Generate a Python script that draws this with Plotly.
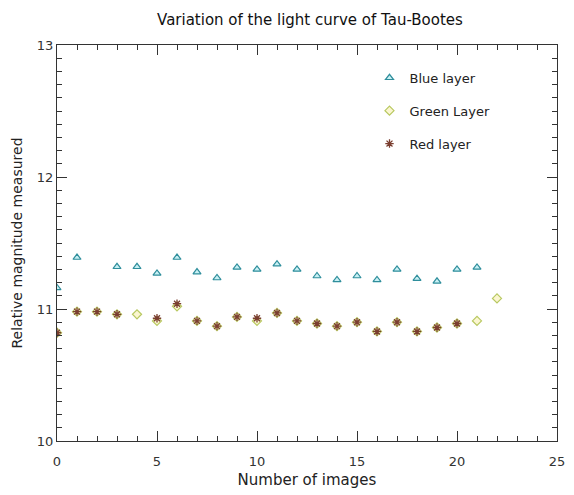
import plotly.graph_objects as go

blue_x = [0, 1, 3, 4, 5, 6, 7, 8, 9, 10, 11, 12, 13, 14, 15, 16, 17, 18, 19, 20, 21]
blue_y = [11.16, 11.39, 11.32, 11.32, 11.27, 11.39, 11.28, 11.235, 11.315, 11.30, 11.34,
          11.30, 11.25, 11.22, 11.25, 11.22, 11.30, 11.23, 11.21, 11.30, 11.315]

green_x = [0, 1, 2, 3, 4, 5, 6, 7, 8, 9, 10, 11, 12, 13, 14, 15, 16, 17, 18, 19, 20, 21, 22]
green_y = [10.82, 10.98, 10.98, 10.96, 10.96, 10.91, 11.02, 10.91, 10.87, 10.94, 10.91, 10.97,
           10.91, 10.89, 10.87, 10.90, 10.83, 10.90, 10.83, 10.86, 10.89, 10.91, 11.08]

red_x = [0, 1, 2, 3, 5, 6, 7, 8, 9, 10, 11, 12, 13, 14, 15, 16, 17, 18, 19, 20]
red_y = [10.82, 10.98, 10.98, 10.96, 10.93, 11.04, 10.91, 10.87, 10.94, 10.93, 10.97,
         10.91, 10.89, 10.87, 10.90, 10.83, 10.90, 10.83, 10.86, 10.89]

FONT = "DejaVu Sans"

fig = go.Figure()
fig.add_trace(go.Scatter(x=blue_x, y=blue_y, mode="markers", name="Blue layer", legendgroup="b",
                         marker=dict(symbol="triangle-up", size=7, color="#c8f0f4",
                                     line=dict(color="#2f8e9c", width=1.2))))
fig.add_trace(go.Scatter(x=green_x, y=green_y, mode="markers", name="Green Layer", legendgroup="g",
                         marker=dict(symbol="diamond", size=7, color="#fbf6d0",
                                     line=dict(color="#b8c860", width=1.2))))
fig.add_trace(go.Scatter(x=red_x, y=red_y, mode="markers", name="Red layer", legendgroup="r",
                         marker=dict(symbol="asterisk-open", size=7, color="#7a3e30",
                                     line=dict(color="#7a3e30", width=1.3))))

axis_common = dict(showline=True, linecolor="#333", linewidth=1, mirror="ticks",
                   ticks="inside", tickcolor="#333", showgrid=False, zeroline=False,
                   tickfont=dict(family=FONT, size=13, color="#333"))

fig.update_xaxes(range=[0, 25], dtick=5, ticklen=10, ticklabelstandoff=8,
                 minor=dict(dtick=1, ticklen=5, ticks="inside", tickcolor="#333"),
                 title=dict(text="Number of images", font=dict(family=FONT, size=15, color="#222"),
                            standoff=6),
                 **axis_common)
fig.update_yaxes(range=[10, 13], dtick=1, ticklen=10,
                 minor=dict(dtick=0.1, ticklen=5, ticks="inside", tickcolor="#333"),
                 title=dict(text="Relative magnitude measured", font=dict(family=FONT, size=14, color="#222"),
                            standoff=10),
                 **axis_common)

fig.update_layout(
    width=574, height=495,
    margin=dict(l=57, r=9, t=45, b=54),
    paper_bgcolor="white", plot_bgcolor="white",
    title=dict(text="Variation of the light curve of Tau-Bootes", x=0.54, xanchor="center",
               y=0.96, yanchor="middle", font=dict(family=FONT, size=15, color="#111")),
    legend=dict(x=0.625, y=0.955, xanchor="left", yanchor="top", bgcolor="rgba(0,0,0,0)",
                font=dict(family=FONT, size=13, color="#222"), tracegroupgap=13),
    showlegend=True,
)

fig.write_html("out.html")
